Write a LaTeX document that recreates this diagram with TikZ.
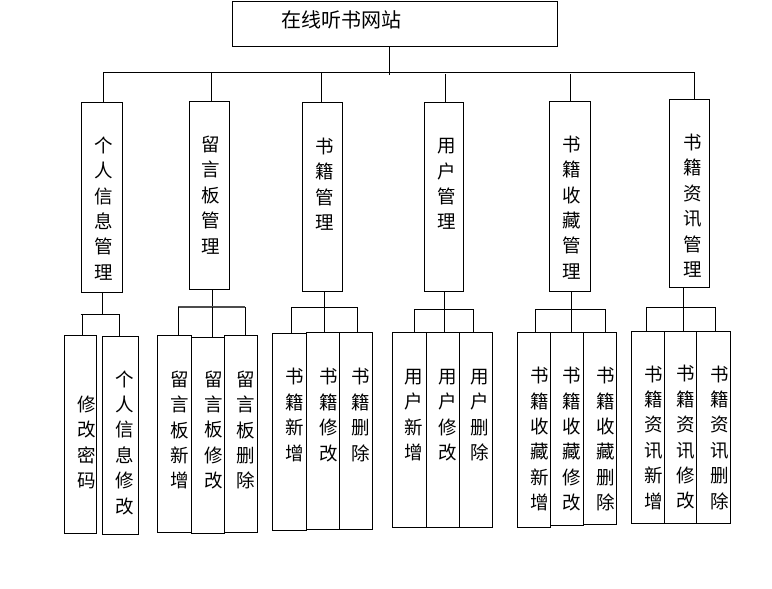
\documentclass[tikz,border=0pt]{standalone}
\usepackage{fontspec}
\newfontfamily\cjk{Noto Sans CJK SC}
\begin{document}
\begin{tikzpicture}[x=1pt,y=-1pt,
  box/.style={draw, line width=1pt, inner sep=0pt, anchor=north west},
  vtext/.style={align=center, inner sep=0pt, font=\cjk\fontsize{18.5}{25.4}\selectfont},
  ln/.style={line width=1pt}]
\useasboundingbox (0,0) rectangle (772,589);
\newcommand\bx[5]{\node[box, minimum width={(#4-#2)*1pt}, minimum height={(#5-#3)*1pt}] (#1) at (#2,#3) {};}
% root
\bx{root}{232}{1}{557}{46}
\node[inner sep=0pt, font=\cjk\fontsize{20}{22}\selectfont] (roott) at (341,20) {在线听书网站};
% level 2
\bx{b1}{81.3}{102.3}{122.3}{292.3}
\bx{b2}{189.3}{101.3}{229.3}{289.3}
\bx{b3}{302.3}{102.3}{341.7}{291.3}
\bx{b4}{424.3}{102.3}{463.3}{291.3}
\bx{b5}{549.3}{101.3}{590.3}{291.3}
\bx{b6}{669.3}{99.3}{709.3}{287.3}
\node[vtext] (t1) at (104,208.5) {个\\人\\信\\息\\管\\理};
\node[vtext] (t2) at (210.7,195) {留\\言\\板\\管\\理};
\node[vtext] (t3) at (324.3,184.2) {书\\籍\\管\\理};
\node[vtext] (t4) at (446.7,184.2) {用\\户\\管\\理};
\node[vtext] (t5) at (571.7,207.5) {书\\籍\\收\\藏\\管\\理};
\node[vtext] (t6) at (692.3,205.7) {书\\籍\\资\\讯\\管\\理};
% bus
\coordinate (busL) at (104,72);
\coordinate (busR) at (694,72);
\coordinate (rj) at (389,75);
\draw[ln] (busL) -- (busR);
\draw[ln] (root.south -| rj) -- (rj);
\coordinate (j1) at (103.3,72);
\coordinate (j2) at (211.7,73);
\coordinate (j3) at (321.7,73);
\coordinate (j4) at (445.7,74);
\coordinate (j5) at (570.7,74);
\coordinate (j6) at (694.3,72);
\foreach \i in {1,...,6}{\draw[ln] (j\i) -- (j\i |- b\i.north);}
% leaves
\bx{l1}{64.3}{335}{95.7}{533.3}
\bx{l2}{102.3}{335.7}{138.3}{534.3}
\bx{l3}{157.3}{335}{190.7}{532.3}
\bx{l4}{190.7}{336.7}{224}{533.3}
\bx{l5}{224}{335}{257.3}{531.7}
\bx{l6}{272.3}{333.3}{305.7}{530}
\bx{l7}{305.7}{332.3}{339.3}{529}
\bx{l8}{339.3}{332.3}{372.3}{529}
\bx{l9}{391.7}{332.3}{425.7}{527.3}
\bx{l10}{425.7}{332.3}{458.7}{527.3}
\bx{l11}{458.7}{332.3}{491.7}{527.3}
\bx{l12}{516.7}{332.3}{549.7}{526.7}
\bx{l13}{549.7}{332.3}{583.3}{525}
\bx{l14}{583.3}{332.3}{616.3}{524.3}
\bx{l15}{630.7}{330.7}{664.3}{523.3}
\bx{l16}{664.3}{330.7}{696.3}{523.3}
\bx{l17}{696.3}{330.7}{729.7}{523.3}
\node[vtext] (s1) at (86.7,442.5) {修\\改\\密\\码};
\node[vtext] (s2) at (125,442.5) {个\\人\\信\\息\\修\\改};
\node[vtext] (s3) at (179.3,430) {留\\言\\板\\新\\增};
\node[vtext] (s4) at (213.3,430) {留\\言\\板\\修\\改};
\node[vtext] (s5) at (246,430) {留\\言\\板\\删\\除};
\node[vtext] (s6) at (295,415) {书\\籍\\新\\增};
\node[vtext] (s7) at (328.3,415) {书\\籍\\修\\改};
\node[vtext] (s8) at (361,415) {书\\籍\\删\\除};
\node[vtext] (s9) at (413.3,415) {用\\户\\新\\增};
\node[vtext] (s10) at (447.3,415) {用\\户\\修\\改};
\node[vtext] (s11) at (479.3,415) {用\\户\\删\\除};
\node[vtext] (s12) at (539.3,439.2) {书\\籍\\收\\藏\\新\\增};
\node[vtext] (s13) at (571.7,439.2) {书\\籍\\收\\藏\\修\\改};
\node[vtext] (s14) at (606,439.2) {书\\籍\\收\\藏\\删\\除};
\node[vtext] (s15) at (653.3,437.5) {书\\籍\\资\\讯\\新\\增};
\node[vtext] (s16) at (686,437.5) {书\\籍\\资\\讯\\修\\改};
\node[vtext] (s17) at (719.3,437.5) {书\\籍\\资\\讯\\删\\除};
% group 1
\coordinate (g1) at (102.3,314);
\draw[ln] (b1.south -| g1) -- (g1);
\draw[ln] (80.7,314) coordinate (g1a) -- (119.3,314) coordinate (g1b);
\draw[ln] (82.3,314) coordinate (d1) -- (d1 |- l1.north);
\draw[ln] (g1b) -- (g1b |- l2.north);
% group 2
\coordinate (g2) at (212.3,307);
\draw[ln] (b2.south -| g2) -- (g2);
\draw[line width=1.5pt, gray!60!black] (178.3,307) coordinate (d3) -- (245,307) coordinate (d5);
\draw[ln] (d3) -- (d3 |- l3.north);
\draw[ln] (g2) -- (g2 |- l4.north);
\draw[ln] (d5) -- (d5 |- l5.north);
% group 3
\coordinate (g3) at (324.3,307.3);
\draw[ln] (b3.south -| g3) -- (g3);
\draw[ln] (291.7,307.3) coordinate (d6) -- (357.3,307.3) coordinate (d8);
\draw[ln] (d6) -- (d6 |- l6.north);
\draw[ln] (g3) -- (g3 |- l7.north);
\draw[ln] (d8) -- (d8 |- l8.north);
% group 4
\coordinate (g4) at (444.3,309.3);
\draw[ln] (b4.south -| g4) -- (g4);
\draw[ln] (414.3,309.3) coordinate (d9) -- (473.3,309.3) coordinate (d11);
\draw[ln] (d9) -- (d9 |- l9.north);
\draw[ln] (g4) -- (g4 |- l10.north);
\draw[ln] (d11) -- (d11 |- l11.north);
% group 5
\coordinate (g5) at (571.7,309.3);
\draw[ln] (b5.south -| g5) -- (g5);
\draw[ln] (535,309.3) coordinate (d12) -- (605.7,309.3) coordinate (d14);
\draw[ln] (d12) -- (d12 |- l12.north);
\draw[ln] (g5) -- (g5 |- l13.north);
\draw[ln] (d14) -- (d14 |- l14.north);
% group 6
\coordinate (g6) at (683.3,307.3);
\draw[ln] (b6.south -| g6) -- (g6);
\draw[ln] (646,307.3) coordinate (d15) -- (715,307.3) coordinate (d17);
\draw[ln] (d15) -- (d15 |- l15.north);
\draw[ln] (g6) -- (g6 |- l16.north);
\draw[ln] (d17) -- (d17 |- l17.north);
\end{tikzpicture}
\end{document}
